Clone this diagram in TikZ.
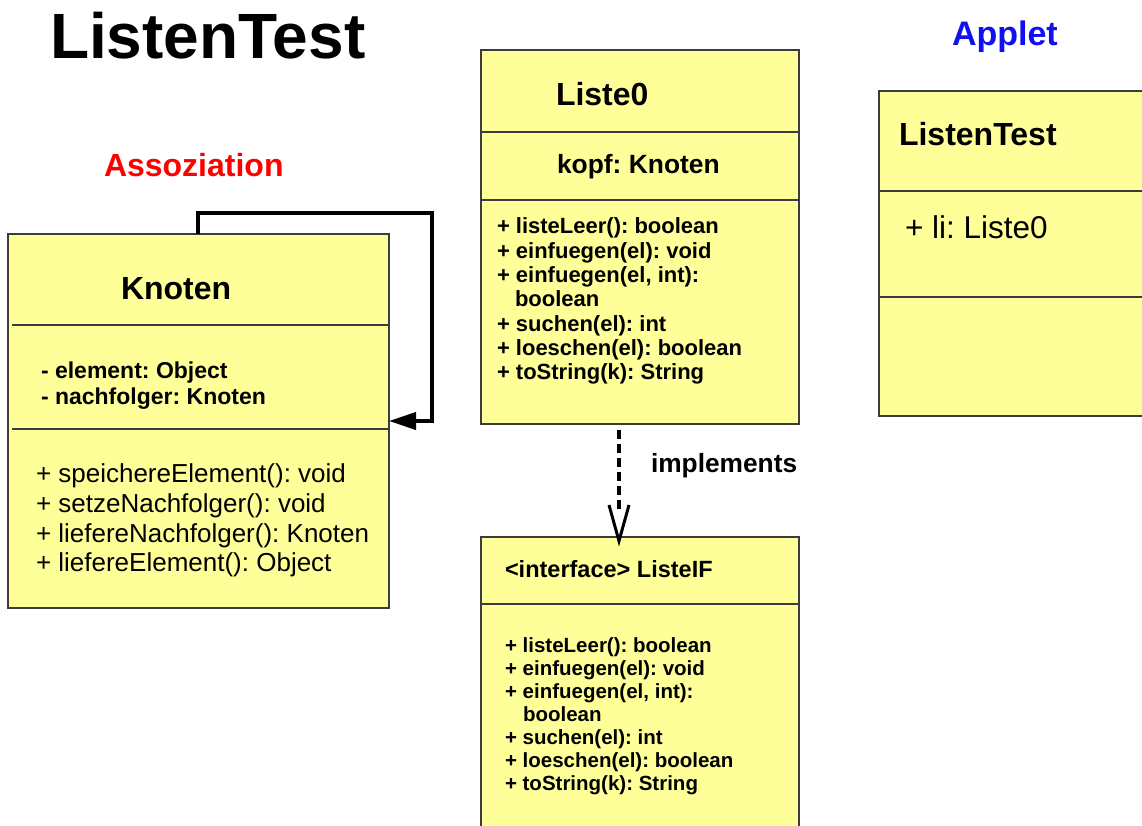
\documentclass[tikz,border=0pt]{standalone}
\usepackage{fontspec}
\setmainfont{Liberation Sans}
\frenchspacing
\usetikzlibrary{arrows.meta}
\definecolor{umlyellow}{RGB}{255,255,153}
\definecolor{boxline}{RGB}{60,60,60}
\definecolor{titleblue}{RGB}{16,16,240}
\tikzset{
  umlbox/.style={draw=boxline, fill=umlyellow, line width=1.2pt, inner sep=0pt, outer sep=0pt, anchor=north west},
  sepline/.style={draw=boxline, line width=1.2pt},
  txt/.style={anchor=base west, inner sep=0pt, outer sep=0pt},
  bigtitle/.style={txt, font=\fontsize{64}{77}\selectfont\bfseries},
  headline/.style={txt, font=\fontsize{32}{38}\selectfont\bfseries},
  knattr/.style={txt, font=\fontsize{23}{27}\selectfont\bfseries},
  knmeth/.style={txt, font=\fontsize{26}{30}\selectfont},
  lmeth/.style={txt, font=\fontsize{22}{26}\selectfont\bfseries},
  imeth/.style={txt, font=\fontsize{20.5}{24}\selectfont\bfseries},
  assoc/.style={line width=4pt, line join=miter, -{Triangle[length=27pt,width=17pt]}},
  impl/.style={line width=3.5pt, dash pattern=on 9pt off 5pt},
  vhead/.style={line width=3pt, line join=miter}
}
\begin{document}
\begin{tikzpicture}[x=1pt,y=1pt]
\clip (0,0) rectangle (1142,-826);
\fill[white] (0,0) rectangle (1142,-826);

% titles
\node[bigtitle] (maintitle) at (50,-59) {ListenTest};
\node[headline, text=red] (assoz) at (104,-177) {Assoziation};
\node[txt, font=\fontsize{34}{40}\selectfont\bfseries, text=titleblue] (applet) at (952,-46) {Applet};

% Knoten box
\node[umlbox, minimum width=381pt, minimum height=374pt] (kn) at (8,-234) {};
\draw[sepline] ([xshift=4pt,yshift=-91pt]kn.north west) -- ([yshift=-91pt]kn.north east);
\draw[sepline] ([xshift=4pt,yshift=-195pt]kn.north west) -- ([yshift=-195pt]kn.north east);
\node[headline] (kntitle) at (121,-299) {Knoten};
\node[knattr] (kna1) at (41,-378) {- element: Object};
\node[knattr] (kna2) at (41,-404) {- nachfolger: Knoten};
\node[knmeth] (knm1) at (36,-482) {+ speichereElement(): void};
\node[knmeth] (knm2) at (36,-512) {+ setzeNachfolger(): void};
\node[knmeth] (knm3) at (36,-542) {+ liefereNachfolger(): Knoten};
\node[knmeth] (knm4) at (36,-571) {+ liefereElement(): Object};

% Liste0 box
\node[umlbox, minimum width=318pt, minimum height=374pt] (l0) at (481,-50) {};
\draw[sepline] ([yshift=-82pt]l0.north west) -- ([yshift=-82pt]l0.north east);
\draw[sepline] ([yshift=-150pt]l0.north west) -- ([yshift=-150pt]l0.north east);
\node[headline] (l0title) at (556,-106) {Liste0};
\node[txt, font=\fontsize{26.4}{31}\selectfont\bfseries] (l0attr) at (557,-174) {kopf: Knoten};
\node[lmeth] (l0m1) at (497,-234) {+ listeLeer(): boolean};
\node[lmeth] (l0m2) at (497,-258.3) {+ einfuegen(el): void};
\node[lmeth] (l0m3) at (497,-282.6) {+ einfuegen(el, int):};
\node[lmeth] (l0m3b) at (515,-306.9) {boolean};
\node[lmeth] (l0m4) at (497,-331.2) {+ suchen(el): int};
\node[lmeth] (l0m5) at (497,-355.5) {+ loeschen(el): boolean};
\node[lmeth] (l0m6) at (497,-379.8) {+ toString(k): String};

% interface box
\node[umlbox, minimum width=318pt, minimum height=300pt] (lif) at (481,-537) {};
\draw[sepline] ([yshift=-67pt]lif.north west) -- ([yshift=-67pt]lif.north east);
\node[txt, font=\fontsize{23.5}{28}\selectfont\bfseries] (liftitle) at (505,-577) {<interface> ListeIF};
\node[imeth] (lifm1) at (505,-652.7) {+ listeLeer(): boolean};
\node[imeth] (lifm2) at (505,-675.7) {+ einfuegen(el): void};
\node[imeth] (lifm3) at (505,-698.7) {+ einfuegen(el, int):};
\node[imeth] (lifm3b) at (523,-721.7) {boolean};
\node[imeth] (lifm4) at (505,-744.7) {+ suchen(el): int};
\node[imeth] (lifm5) at (505,-767.7) {+ loeschen(el): boolean};
\node[imeth] (lifm6) at (505,-790.7) {+ toString(k): String};

% ListenTest box
\node[umlbox, minimum width=300pt, minimum height=325pt] (lt) at (879,-91) {};
\draw[sepline] ([yshift=-100pt]lt.north west) -- ([yshift=-100pt]lt.north east);
\draw[sepline] ([yshift=-206pt]lt.north west) -- ([yshift=-206pt]lt.north east);
\node[headline] (lttitle) at (899,-146) {ListenTest};
\node[txt, font=\fontsize{31.5}{37}\selectfont] (ltattr) at (905,-239) {+ li: Liste0};

% connectors
\coordinate (loopcorner) at (432,-213);
\draw[assoc] ([xshift=190pt]kn.north west) |- (loopcorner) |- (kn.east);
\coordinate (imptip) at ([xshift=-21pt,yshift=-4pt]lif.north);
\coordinate (impend) at ([yshift=28pt]imptip);
\draw[impl] ([xshift=-21pt,yshift=-6pt]l0.south) -- (impend);
\draw[vhead] ([xshift=-10pt,yshift=36pt]imptip) -- (imptip) -- ([xshift=10pt,yshift=36pt]imptip);
\node[txt, font=\fontsize{26.3}{31}\selectfont\bfseries] (implabel) at (651,-472) {implements};
\end{tikzpicture}
\end{document}
